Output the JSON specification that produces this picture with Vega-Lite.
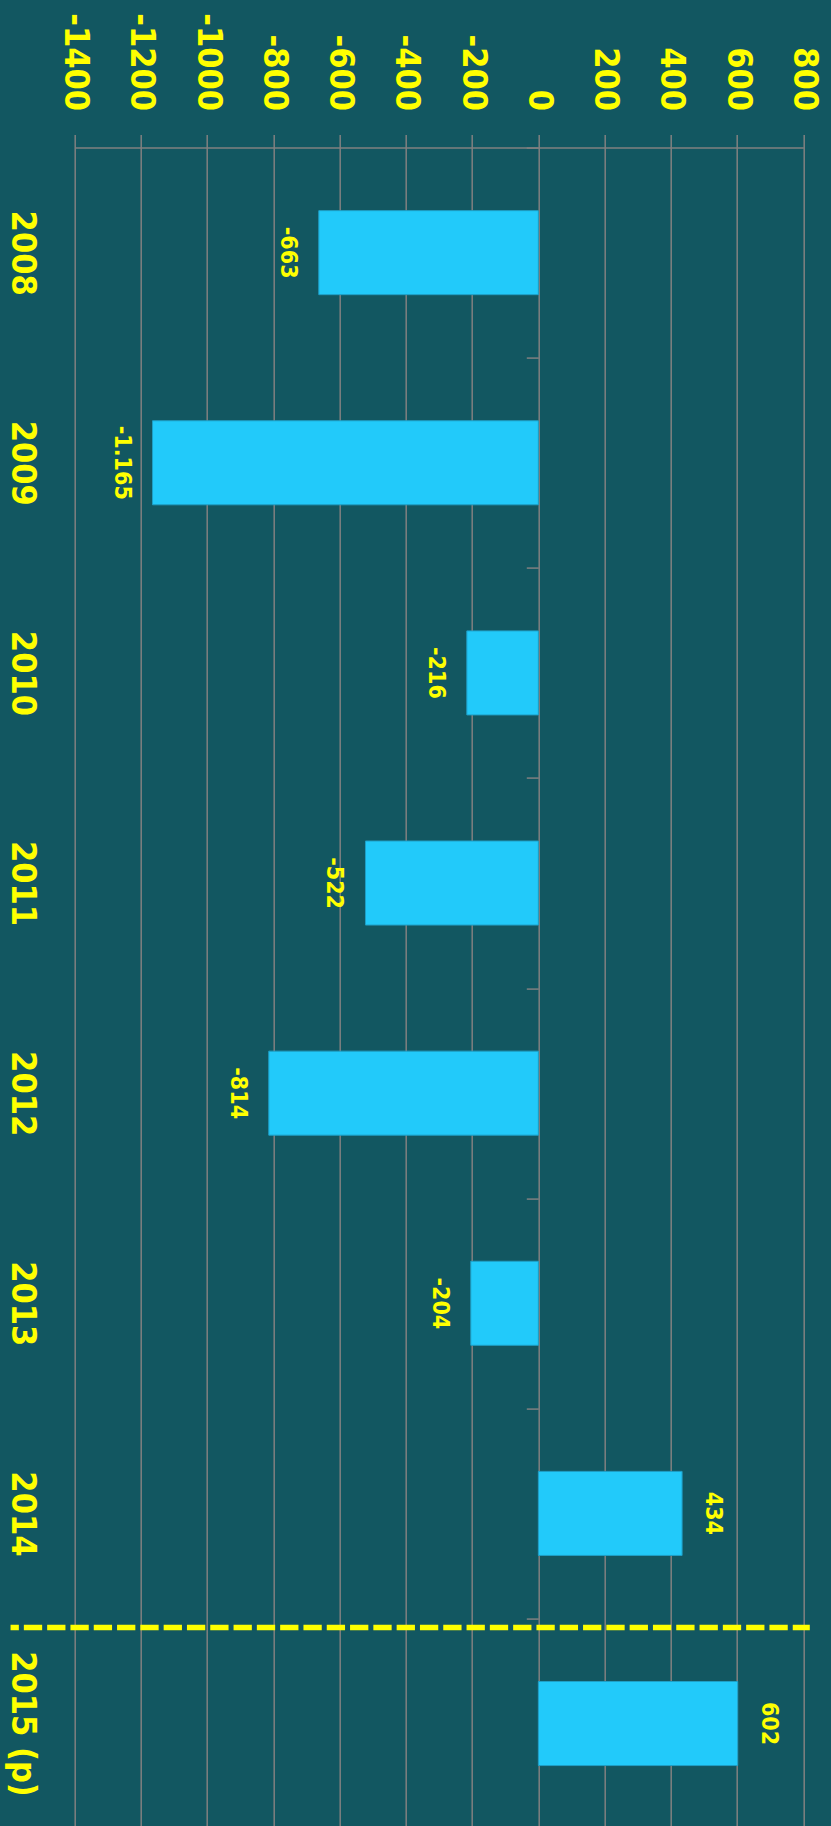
{
  "$schema": "https://vega.github.io/schema/vega-lite/v6.json",
  "autosize": "none",
  "width": 728.6,
  "height": 1681,
  "padding": {"left": 74.7, "top": 147.6, "right": 27.7, "bottom": 0},
  "background": "#125761",
  "config": {"view": {"stroke": null}},
  "data": {
    "values": [
      {"year": "2008", "value": -663, "label": "-663"},
      {"year": "2009", "value": -1165, "label": "-1.165"},
      {"year": "2010", "value": -216, "label": "-216"},
      {"year": "2011", "value": -522, "label": "-522"},
      {"year": "2012", "value": -814, "label": "-814"},
      {"year": "2013", "value": -204, "label": "-204"},
      {"year": "2014", "value": 434, "label": "434"},
      {"year": "2015 (p)", "value": 602, "label": "602"}
    ]
  },
  "encoding": {
    "y": {
      "field": "year",
      "type": "nominal",
      "scale": {"paddingInner": 0, "paddingOuter": 0},
      "axis": {
        "orient": "left",
        "title": null,
        "offset": -463.6,
        "domain": false,
        "grid": false,
        "ticks": true,
        "tickBand": "extent",
        "tickSize": 12,
        "tickColor": "#808080",
        "tickWidth": 1.5,
        "labelPadding": 505,
        "labelAngle": 90,
        "labelAlign": "center",
        "labelBaseline": "middle",
        "labelFont": "DejaVu Sans Condensed",
        "labelFontWeight": "bold",
        "labelFontSize": 34,
        "labelColor": "#ffff00"
      }
    }
  },
  "layer": [
    {
      "mark": {"type": "bar", "height": {"band": 0.4}, "color": "#22cafa", "stroke": "#1f9fc6", "strokeWidth": 1},
      "encoding": {
        "x": {
          "field": "value",
          "type": "quantitative",
          "scale": {"domain": [-1400, 800], "nice": false, "zero": false},
          "axis": {
            "orient": "top",
            "title": null,
            "values": [-1400, -1200, -1000, -800, -600, -400, -200, 0, 200, 400, 600, 800],
            "labelExpr": "datum.value + ''",
            "grid": true,
            "gridColor": "#808080",
            "gridWidth": 1.5,
            "domainColor": "#808080",
            "domainWidth": 1.5,
            "tickColor": "#808080",
            "tickWidth": 1.5,
            "tickSize": 13,
            "labelAngle": 90,
            "labelAlign": "right",
            "labelBaseline": "middle",
            "labelPadding": 24,
            "labelFlush": false,
            "labelOverlap": false,
            "labelFont": "DejaVu Sans Condensed",
            "labelFontWeight": "bold",
            "labelFontSize": 34,
            "labelColor": "#ffff00"
          }
        }
      }
    },
    {
      "transform": [{"filter": "datum.value < 0"}],
      "mark": {"type": "text", "angle": 90, "align": "center", "baseline": "middle", "dy": 31, "font": "DejaVu Sans Condensed", "fontWeight": "bold", "fontSize": 23, "color": "#ffff00"},
      "encoding": {
        "x": {"field": "value", "type": "quantitative"},
        "text": {"field": "label"}
      }
    },
    {
      "transform": [{"filter": "datum.value >= 0"}],
      "mark": {"type": "text", "angle": 90, "align": "center", "baseline": "middle", "dy": -31, "font": "DejaVu Sans Condensed", "fontWeight": "bold", "fontSize": 23, "color": "#ffff00"},
      "encoding": {
        "x": {"field": "value", "type": "quantitative"},
        "text": {"field": "label"}
      }
    },
    {
      "data": {"values": [{}]},
      "mark": {"type": "rule", "color": "#ffff00", "strokeWidth": 5.5, "strokeDash": [18.3, 5], "strokeDashOffset": 10, "strokeCap": "butt"},
      "encoding": {
        "y": {"datum": "2015 (p)", "type": "nominal", "bandPosition": 0.043},
        "x": {"datum": -1593.7, "type": "quantitative"},
        "x2": {"datum": 819.6}
      }
    }
  ]
}
